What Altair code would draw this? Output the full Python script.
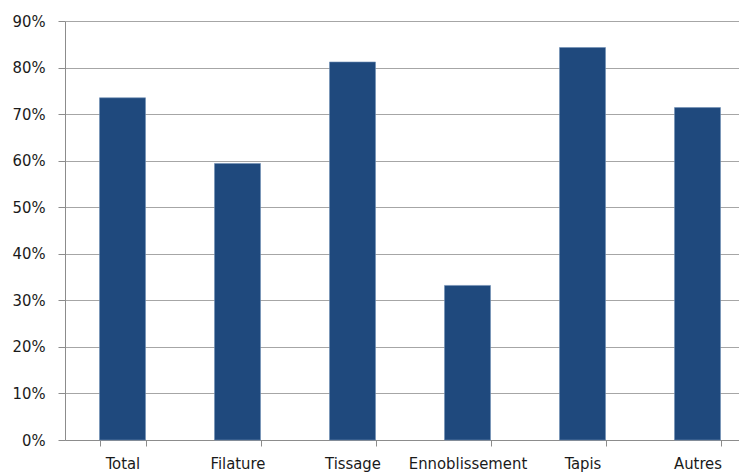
import altair as alt
import pandas as pd

categories = ["Total", "Filature", "Tissage", "Ennoblissement", "Tapis", "Autres"]
values = [0.735, 0.594, 0.812, 0.332, 0.843, 0.714]
y_ticks = [0, 0.1, 0.2, 0.3, 0.4, 0.5, 0.6, 0.7, 0.8, 0.9]

df = pd.DataFrame({"cat": categories, "val": values})

FONT = "DejaVu Sans Condensed, Arial Narrow, sans-serif"

chart = alt.Chart(df).mark_bar(color="#1F497D", stroke="#6F8FB5", strokeWidth=0.6).encode(
    x=alt.X("cat:N", sort=categories, title=None,
            scale=alt.Scale(paddingInner=0.6, paddingOuter=0.3, range=[0, 690]),
            axis=alt.Axis(labelAngle=0, tickBand="extent", tickSize=6,
                          labelPadding=9, labelFontSize=16.5, labelFont=FONT,
                          labelColor="#1a1a1a", domainColor="#8c8c8c",
                          tickColor="#8c8c8c", grid=False)),
    y=alt.Y("val:Q", title=None,
            scale=alt.Scale(domain=[0, 0.9], nice=False),
            axis=alt.Axis(values=y_ticks, format=".0%", tickSize=7,
                          labelPadding=13, labelFontSize=16.5, labelFont=FONT,
                          labelColor="#1a1a1a", domainColor="#8c8c8c",
                          tickColor="#8c8c8c", gridColor="#a6a6a6",
                          gridWidth=1.2)),
).properties(
    width=674, height=419,
    autosize=alt.AutoSizeParams(type="none"),
    padding={"left": 57, "top": 13, "right": 0, "bottom": 32},
).configure_view(stroke=None)

chart.save("out.html", embed_options={"renderer": "svg", "actions": False})
